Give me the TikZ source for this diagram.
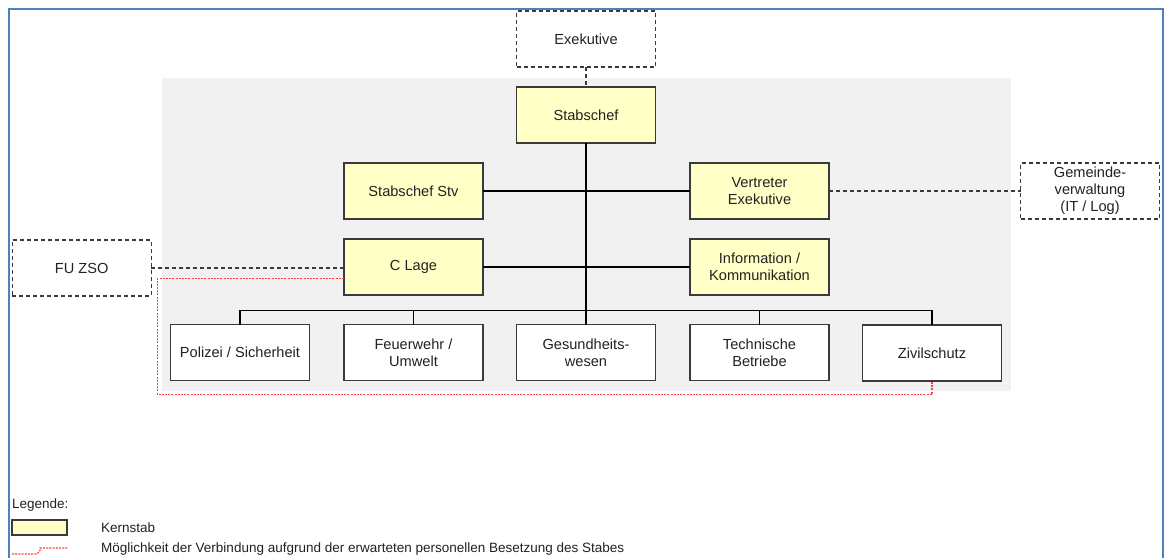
\documentclass[tikz,border=0pt]{standalone}
\usepackage{fontspec}
\setmainfont{Liberation Sans}
\definecolor{frameblue}{HTML}{4F81BD}
\definecolor{kernfill}{HTML}{FFFFC6}
\definecolor{bggray}{HTML}{F1F1F1}
\definecolor{boxline}{HTML}{3A3A3A}
\definecolor{txt}{HTML}{222222}
\definecolor{reddot}{HTML}{FF4040}
\newcommand\diagfont{\fontsize{14.6}{16.8}\selectfont}
\newcommand\legfont{\fontsize{13.5}{16}\selectfont}
\tikzset{
  box/.style={draw=boxline, line width=1.3pt, minimum width=139pt, minimum height=56pt,
              inner sep=0pt, outer sep=0pt, align=center, font=\diagfont, text=txt},
  kern/.style={box, fill=kernfill},
  plainbox/.style={box, fill=white},
  extbox/.style={box, fill=white, dash pattern=on 4pt off 3pt, line width=1.2pt},
  solidline/.style={draw=black, line width=1.3pt},
  extline/.style={draw=boxline, line width=1.2pt, dash pattern=on 4pt off 3pt},
  redline/.style={draw=reddot, line width=1.5pt, dash pattern=on 2pt off 1.2pt},
  legtext/.style={anchor=west, inner sep=0pt, font=\legfont, text=txt}
}
\begin{document}
\begin{tikzpicture}[x=1pt,y=-1pt]
\useasboundingbox (0,0) rectangle (1164,558);
\fill[white] (0,0) rectangle (1164,558);
% outer frame (open at the bottom)
\draw[frameblue, line width=2pt] (8.5,558) -- (8.5,9) -- (1162.5,9) -- (1162.5,558);
% grey background
\fill[bggray] (161.5,77.5) rectangle (1010.5,391);

% nodes
\node[extbox] (exek) at (586,39) {Exekutive};
\node[kern] (chef) at (586,115) {Stabschef};
\node[kern] (stv) at (413.5,191) {Stabschef Stv};
\node[kern] (vertr) at (759.5,191) {Vertreter\\Exekutive};
\node[kern] (clage) at (413.5,267) {C Lage};
\node[kern] (info) at (759.5,267) {Information /\\Kommunikation};
\node[extbox] (gemeinde) at (1090,191) {Gemeinde-\\verwaltung\\(IT / Log)};
\node[extbox] (fuzso) at (81.7,268) {FU ZSO};
\node[plainbox] (polizei) at (240,352.5) {Polizei / Sicherheit};
\node[plainbox] (feuer) at (413.5,352.5) {Feuerwehr /\\Umwelt};
\node[plainbox] (gesund) at (586,352.5) {Gesundheits-\\wesen};
\node[plainbox] (tech) at (759.5,352.5) {Technische\\Betriebe};
\node[plainbox] (zivil) at (932,353) {Zivilschutz};

% red dotted connection
\coordinate (r1) at (157.3,278.5);
\coordinate (r2) at (157.3,394.5);
\coordinate (r3) at (932,394.5);
\draw[redline] (clage.west |- r1) -- (r1) -- (r2) -- (r3) -- (zivil.south);

% solid connectors
\draw[solidline] (chef.south) -- (gesund.north);
\draw[solidline] (stv.east) -- (vertr.west);
\draw[solidline] (clage.east) -- (info.west);
\coordinate (bl) at (240,310.3);
\coordinate (br) at (932,310.3);
\draw[solidline] (polizei.north) -- (bl) -- (br) -- (zivil.north);
\draw[solidline] (feuer.north) -- (feuer.north |- bl);
\draw[solidline] (tech.north) -- (tech.north |- bl);

% dashed connectors
\draw[extline] (exek.south) -- (chef.north);
\draw[extline] (vertr.east) -- (gemeinde.west);
\draw[extline] (fuzso.east) -- (fuzso.east -| clage.west);

% legend
\node[legtext] (legtitle) at (12,505) {Legende:};
\node[draw=boxline, line width=1.2pt, fill=kernfill, minimum width=55pt, minimum height=15pt,
      inner sep=0pt] (legbox) at (39.5,527.5) {};
\node[legtext] (legk) at (101,527.5) {Kernstab};
\coordinate (lr1) at (12,554);
\coordinate (lr2) at (37,554);
\coordinate (lr3) at (40,550.5);
\coordinate (lr4) at (40,548);
\coordinate (lr5) at (67,548);
\draw[redline, line width=1.2pt] (lr1) -- (lr2) -- (lr3) -- (lr4) -- (lr5);
\node[legtext] (legm) at (101,549) {Möglichkeit der Verbindung aufgrund der erwarteten personellen Besetzung des Stabes};
\end{tikzpicture}
\end{document}
